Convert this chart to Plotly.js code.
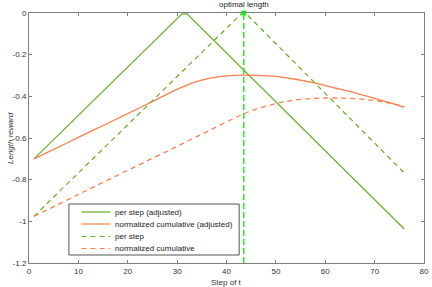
<!DOCTYPE html>
<html><head><meta charset="utf-8">
<script src="https://cdn.plot.ly/plotly-3.0.1.min.js"></script>
<style>html,body{margin:0;padding:0;background:#fff}#chart{width:432px;height:287px}</style>
</head><body><div id="chart"></div>
<script>
// per step (adjusted)
const stepAdjX = [1, 31, 32, 76];
const stepAdjY = [-0.70, -0.004, -0.004, -1.037];
// normalized cumulative (adjusted)
const cumAdjX = [1, 5, 10, 15, 20, 25, 28, 31, 34, 37, 40, 43, 46, 50, 54, 58, 62, 66, 70, 73, 76];
const cumAdjY = [-0.70, -0.655, -0.597, -0.54, -0.483, -0.425, -0.389, -0.356, -0.328, -0.311, -0.302, -0.298, -0.299, -0.304, -0.318, -0.337, -0.36, -0.383, -0.41, -0.43, -0.453];
// per step
const stepX = [1, 43, 44, 76];
const stepY = [-0.976, -0.004, -0.004, -0.768];
// normalized cumulative
const cumX = [1, 10, 20, 30, 33, 36, 40, 43, 46, 50, 53, 56, 60, 64, 68, 72, 76];
const cumY = [-0.976, -0.871, -0.755, -0.64, -0.605, -0.57, -0.523, -0.489, -0.461, -0.435, -0.421, -0.413, -0.408, -0.409, -0.415, -0.428, -0.448];
// optimal length marker
const optimalX = 43.5;
const optimalLabel = 'optimal length';
const seriesNames = ['per step (adjusted)', 'normalized cumulative (adjusted)', 'per step', 'normalized cumulative'];
const xTicks = [0, 10, 20, 30, 40, 50, 60, 70, 80];
const yTicks = [0, -0.2, -0.4, -0.6, -0.8, -1, -1.2];
const yTickText = ['0', '-0.2', '-0.4', '-0.6', '-0.8', '-1', '-1.2'];
const xTitle = 'Step of t';
const yTitle = 'Length reward';

const green = '#62b020';
const orange = '#ff7f4c';
const lime = '#22ee22';
const seriesColors = [green, orange, green, orange];
const seriesDash = ['solid', 'solid', '5px,4px', '5px,4px'];

const traces = [
  {x: stepAdjX, y: stepAdjY, mode: 'lines', name: seriesNames[0], line: {color: green, width: 1.2}},
  {x: cumAdjX, y: cumAdjY, mode: 'lines', name: seriesNames[1], line: {color: orange, width: 1.3, shape: 'spline'}},
  {x: stepX, y: stepY, mode: 'lines', name: seriesNames[2], line: {color: green, width: 1.2, dash: '5px,4px'}},
  {x: cumX, y: cumY, mode: 'lines', name: seriesNames[3], line: {color: orange, width: 1.3, dash: '5px,4px', shape: 'spline'}},
  {x: [optimalX, optimalX], y: [-1.2, 0], mode: 'lines', showlegend: false, line: {color: lime, width: 1.5, dash: '6px,3px'}, cliponaxis: false},
  {x: [optimalX], y: [0], mode: 'markers', showlegend: false, marker: {color: lime, size: 5, symbol: 'square'}, cliponaxis: false}
];

const FONT = 'Liberation Sans, Arial, sans-serif';
const axisCommon = {
  showgrid: false, zeroline: false, showline: true, mirror: 'ticks', automargin: false,
  linecolor: '#7f7f7f', linewidth: 1, ticks: 'inside', ticklen: 3, tickcolor: '#7f7f7f',
  tickfont: {family: FONT, size: 8, color: '#333'}
};

// custom legend (box, line samples, labels) in paper coordinates
const legBox = {x0: 0.101, x1: 0.532, y0: 0.032, y1: 0.236};
const legRowsY = [0.204, 0.156, 0.106, 0.058];
const shapes = [{type: 'rect', xref: 'paper', yref: 'paper', x0: legBox.x0, x1: legBox.x1, y0: legBox.y0, y1: legBox.y1,
  line: {color: '#555', width: 1}, fillcolor: '#fff', layer: 'above'}];
const annotations = [
  {x: optimalX, y: 0, xref: 'x', yref: 'y', text: optimalLabel, showarrow: false, yanchor: 'bottom', yshift: 2,
    font: {family: FONT, size: 8, color: '#222'}},
  {x: 0.5, y: 0, xref: 'paper', yref: 'paper', text: xTitle, showarrow: false, xanchor: 'center', yanchor: 'top', yshift: -13,
    font: {family: FONT, size: 8, color: '#333'}},
  {x: 0, y: 0.5, xref: 'paper', yref: 'paper', text: '<i>' + yTitle + '</i>', showarrow: false, textangle: -90,
    xanchor: 'center', yanchor: 'middle', xshift: -19, font: {family: FONT, size: 8, color: '#333'}}
];
seriesNames.forEach((nm, i) => {
  shapes.push({type: 'line', xref: 'paper', yref: 'paper', x0: 0.133, x1: 0.206, y0: legRowsY[i], y1: legRowsY[i],
    line: {color: seriesColors[i], width: 1.2, dash: seriesDash[i]}, layer: 'above'});
  annotations.push({x: 0.2127, y: legRowsY[i], xref: 'paper', yref: 'paper', text: nm, showarrow: false,
    xanchor: 'left', yanchor: 'middle', font: {family: FONT, size: 8, color: '#222'}});
});

const layout = {
  width: 432, height: 287,
  margin: {l: 29, r: 8, t: 13, b: 24},
  paper_bgcolor: '#fff', plot_bgcolor: '#fff',
  font: {family: FONT, size: 8, color: '#333'},
  xaxis: Object.assign({}, axisCommon, {range: [0, 80], tickvals: xTicks, ticktext: xTicks.map(String)}),
  yaxis: Object.assign({}, axisCommon, {range: [-1.2, 0], tickvals: yTicks, ticktext: yTickText}),
  showlegend: false,
  shapes: shapes,
  annotations: annotations
};

Plotly.newPlot('chart', traces, layout, {displayModeBar: false, staticPlot: true});
</script></body></html>
